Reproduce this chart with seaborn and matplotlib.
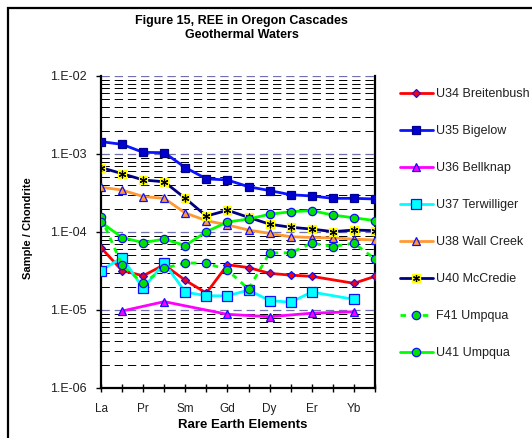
import numpy as np
import pandas as pd
import matplotlib
matplotlib.use("Agg")
import matplotlib.pyplot as plt
from matplotlib.lines import Line2D
from matplotlib.patches import Rectangle
from matplotlib.ticker import FixedLocator, FuncFormatter, LogLocator, NullFormatter
import seaborn as sns

# ---- data: chondrite-normalised REE concentrations ----
elements = ["La", "Ce", "Pr", "Nd", "Sm", "Eu", "Gd", "Tb", "Dy", "Ho", "Er", "Tm", "Yb", "Lu"]
tick_labels = ["La", "", "Pr", "", "Sm", "", "Gd", "", "Dy", "", "Er", "", "Yb", ""]
nan = np.nan
u34_breitenbush = [6.3e-5, 3.2e-5, 2.75e-5, 3.8e-5, 2.4e-5, 1.65e-5, 3.8e-5, 3.5e-5, 2.95e-5, 2.8e-5, 2.7e-5, nan, 2.2e-5, 2.7e-5]
u35_bigelow = [1.44e-3, 1.33e-3, 1.05e-3, 1.04e-3, 6.7e-4, 4.8e-4, 4.65e-4, 3.8e-4, 3.4e-4, 3.0e-4, 2.9e-4, 2.7e-4, 2.7e-4, 2.65e-4]
u36_bellknap = [nan, 9.7e-6, nan, 1.28e-5, nan, nan, 8.8e-6, nan, 8.2e-6, nan, 9.1e-6, nan, 9.5e-6, nan]
u37_terwilliger = [3.2e-5, 4.7e-5, 1.9e-5, 4.0e-5, 1.7e-5, 1.52e-5, 1.52e-5, 1.8e-5, 1.32e-5, 1.26e-5, 1.7e-5, nan, 1.37e-5, nan]
u38_wall_creek = [3.75e-4, 3.45e-4, 2.85e-4, 2.7e-4, 1.75e-4, 1.4e-4, 1.23e-4, 1.06e-4, 9.6e-5, 8.7e-5, 8.5e-5, 8.4e-5, 8.1e-5, 7.9e-5]
u40_mccredie = [6.7e-4, 5.6e-4, 4.65e-4, 4.4e-4, 2.7e-4, 1.6e-4, 1.9e-4, 1.54e-4, 1.26e-4, 1.15e-4, 1.09e-4, 1.01e-4, 1.06e-4, 1.04e-4]
f41_umpqua = [1.54e-4, 3.75e-5, 2.2e-5, 3.45e-5, 4.0e-5, 4.0e-5, 3.25e-5, 1.85e-5, 5.4e-5, 5.4e-5, 7.2e-5, 6.5e-5, 7.2e-5, 4.5e-5]
u41_umpqua = [1.33e-4, 8.5e-5, 7.3e-5, 8.1e-5, 6.7e-5, 1.01e-4, 1.34e-4, 1.47e-4, 1.69e-4, 1.82e-4, 1.88e-4, 1.65e-4, 1.52e-4, 1.40e-4]

series_names = ["U34 Breitenbush", "U35 Bigelow", "U36 Bellknap", "U37 Terwilliger",
                "U38 Wall Creek", "U40 McCredie", "F41 Umpqua", "U41 Umpqua"]
series_values = [u34_breitenbush, u35_bigelow, u36_bellknap, u37_terwilliger,
                 u38_wall_creek, u40_mccredie, f41_umpqua, u41_umpqua]

rows = []
for name, vals in zip(series_names, series_values):
    for i, (el, v) in enumerate(zip(elements, vals)):
        rows.append({"sample": name, "element": el, "pos": i, "value": v})
df = pd.DataFrame(rows).dropna()

# ---- styling per series ----
BLUE_EDGE = "#1010ff"
styles = {
    "U34 Breitenbush": dict(color="#ff0000", marker="D", ms=4, mfc="#ff0000", mec=BLUE_EDGE, ls="-"),
    "U35 Bigelow": dict(color="#0a14ff", marker="s", ms=6, mfc="#0000d0", mec="#000090", ls="-"),
    "U36 Bellknap": dict(color="#ff00ff", marker="^", ms=6, mfc="#ff00ff", mec=BLUE_EDGE, ls="-"),
    "U37 Terwilliger": dict(color="#00ffff", marker="s", ms=6.5, mfc="#00ffff", mec=BLUE_EDGE, ls="-"),
    "U38 Wall Creek": dict(color="#ff9933", marker="^", ms=6, mfc="#ff9933", mec=BLUE_EDGE, ls="-"),
    "U40 McCredie": dict(color="#000080", marker="s", ms=6, mfc="#ffff00", mec="#ffff00", ls="-"),
    "F41 Umpqua": dict(color="#00ff00", marker="o", ms=6, mfc="#00e000", mec=BLUE_EDGE, ls=(0, (4, 4))),
    "U41 Umpqua": dict(color="#00ff00", marker="o", ms=6, mfc="#00e000", mec=BLUE_EDGE, ls="-"),
}
STAR = (6, 2, 0)

sns.set_theme(style="white")
plt.rcParams["font.family"] = ["Liberation Sans", "DejaVu Sans"]
plt.rcParams["lines.scale_dashes"] = False

W, H = 532, 438
fig = plt.figure(figsize=(W / 100, H / 100), dpi=100)
fig.patch.set_facecolor("white")
ax = fig.add_axes([101 / W, 1 - 388 / H, 274 / W, 312 / H])
ax.set_facecolor("white")

ax.set_yscale("log")
ax.set_ylim(1e-6, 1e-2)
ax.set_xlim(0, len(elements) - 1)

# dashed horizontal grid
ax.yaxis.set_major_locator(LogLocator(base=10, numticks=10))
ax.yaxis.set_minor_locator(LogLocator(base=10, subs=np.arange(2, 10), numticks=10))
ax.grid(True, which="major", axis="y", color="#7070b0", lw=0.9, ls=(0, (6, 3.5)))
ax.grid(True, which="minor", axis="y", color="#000000", lw=0.7, ls=(0, (6, 3.5)))
ax.grid(False, axis="x")
ax.set_axisbelow(True)

handles = []
for k, name in enumerate(series_names):
    st = styles[name]
    sub = df[df["sample"] == name]
    sns.lineplot(data=sub, x="pos", y="value", ax=ax, errorbar=None, legend=False,
                 color=st["color"], linewidth=2.0, linestyle=st["ls"],
                 marker=st["marker"], markersize=st["ms"],
                 markerfacecolor=st["mfc"], markeredgecolor=st["mec"],
                 markeredgewidth=0.9, zorder=3 + k)
    h = Line2D([], [], color=st["color"], lw=2.0, ls=st["ls"], marker=st["marker"],
               ms=st["ms"], mfc=st["mfc"], mec=st["mec"], mew=0.9)
    if name == "U40 McCredie":
        sns.scatterplot(data=sub, x="pos", y="value", ax=ax, marker=STAR, s=24,
                        color="black", linewidth=0.9, edgecolor="black", legend=False,
                        zorder=3 + k + 0.5)
        h = (h, Line2D([], [], ls="none", marker=STAR, ms=5, color="black",
                       mec="black", mew=0.9))
    handles.append(h)

# axes frame
for side in ["left", "bottom", "right"]:
    ax.spines[side].set_visible(True)
    ax.spines[side].set_color("black")
    ax.spines[side].set_linewidth(1.6)
ax.spines["top"].set_visible(False)

# ticks
ax.set_xticks(range(len(elements)))
ax.set_xticklabels(tick_labels)
ax.xaxis.set_minor_locator(FixedLocator([]))
ax.tick_params(axis="x", which="major", direction="inout", length=6, width=1.0,
               color="black", labelsize=8.5, pad=7.5, bottom=True, labelcolor="#202020")
ax.yaxis.set_major_formatter(FuncFormatter(lambda v, p: "1.E-%02d" % round(-np.log10(v))))
ax.yaxis.set_minor_formatter(NullFormatter())
ax.tick_params(axis="y", which="major", direction="out", length=3.5, width=1.0,
               color="black", labelsize=9, pad=7, left=True, labelcolor="#202020")
ax.tick_params(axis="y", which="minor", length=0)

ax.set_xlabel("Rare Earth Elements", fontsize=9.5, fontweight="bold", color="black")
ax.set_ylabel("Sample / Chondrite", fontsize=8, fontweight="bold", color="black")
ax.xaxis.set_label_coords((242.5 - 101) / 274, (388 - 425) / 312)
ax.xaxis.label.set_va("center")
ax.yaxis.set_label_coords((28 - 101) / 274, (388 - 228) / 312)
ax.yaxis.label.set_va("center")

fig.text(241.7 / W, 1 - 28 / H, "Figure 15, REE in Oregon Cascades\nGeothermal Waters",
         ha="center", va="center", fontsize=9, fontweight="bold", linespacing=1.2,
         multialignment="center", color="black")

leg = ax.legend(handles, series_names, loc="upper left",
                bbox_to_anchor=(400 / W, 1 - 88 / H), bbox_transform=fig.transFigure,
                frameon=False, fontsize=9, handlelength=2.6, handletextpad=0.25,
                labelspacing=2.0, borderpad=0, borderaxespad=0, numpoints=1)
for t in leg.get_texts():
    t.set_color("#202020")

# chart-area border
fig.patches.append(Rectangle((8 / W, -0.2), 1.2, 1 - 8 / H + 0.2, transform=fig.transFigure,
                             fill=False, edgecolor="black", linewidth=1.6))

fig.savefig("out.png", dpi=100, facecolor="white")
